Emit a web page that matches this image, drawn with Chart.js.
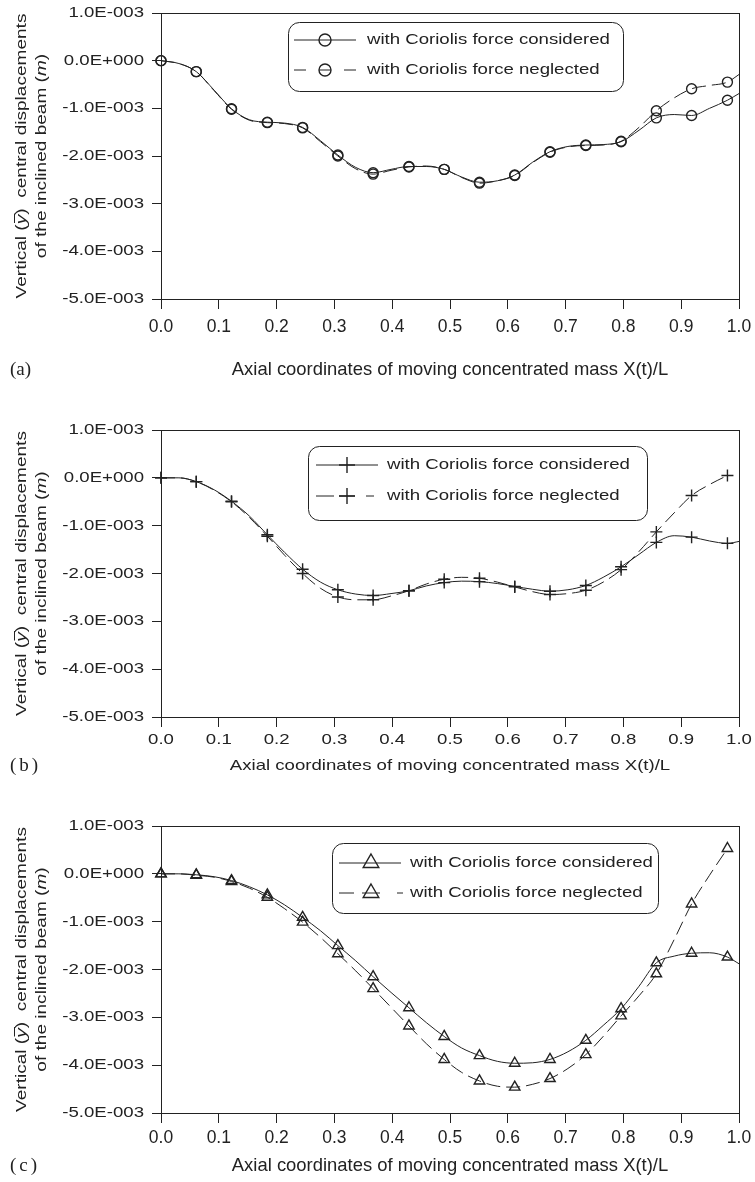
<!DOCTYPE html>
<html>
<head>
<meta charset="utf-8">
<script src="https://cdn.jsdelivr.net/npm/chart.js@4.4.1/dist/chart.umd.min.js"></script>
<style>
  html, body { margin: 0; padding: 0; background: #fff; }
  #wrap { position: relative; width: 755px; height: 1182px; overflow: hidden; }
  #wrap canvas { position: absolute; left: 0; }
</style>
</head>
<body>
<div id="wrap">
  <canvas id="panelA" width="755" height="395" style="top:0px"></canvas>
  <canvas id="panelB" width="755" height="395" style="top:395px"></canvas>
  <canvas id="panelC" width="755" height="392" style="top:790px"></canvas>
</div>
<script>
// positions X(t)/L along the beam where the response is sampled
const axialPos = [0, 0.031, 0.061, 0.092, 0.122, 0.153, 0.184, 0.214, 0.245, 0.276, 0.306, 0.337,
  0.367, 0.398, 0.429, 0.459, 0.490, 0.520, 0.551, 0.582, 0.612, 0.643, 0.673, 0.704, 0.735,
  0.765, 0.796, 0.827, 0.857, 0.888, 0.918, 0.949, 0.980, 1.000];
// positions that carry a symbol
const markerPos = [0, 0.061, 0.122, 0.184, 0.245, 0.306, 0.367, 0.429, 0.490, 0.551, 0.612,
  0.673, 0.735, 0.796, 0.857, 0.918, 0.980];

// vertical central displacement, in units of 1E-003 m
const dispA_considered = [0, -0.06, -0.23, -0.62, -1.01, -1.24, -1.29, -1.31, -1.40, -1.68, -1.98, -2.24,
  -2.35, -2.28, -2.22, -2.22, -2.28, -2.44, -2.55, -2.52, -2.40, -2.13, -1.91, -1.80, -1.77,
  -1.76, -1.70, -1.46, -1.20, -1.13, -1.15, -1.00, -0.83, -0.69];
const dispA_neglected = [0, -0.06, -0.23, -0.63, -1.02, -1.25, -1.30, -1.32, -1.41, -1.70, -2.00, -2.27,
  -2.38, -2.30, -2.23, -2.21, -2.28, -2.45, -2.57, -2.52, -2.41, -2.14, -1.92, -1.81, -1.78,
  -1.77, -1.69, -1.40, -1.05, -0.78, -0.59, -0.52, -0.45, -0.29];

const dispB_considered = [0, 0, -0.08, -0.25, -0.49, -0.80, -1.19, -1.56, -1.91, -2.18, -2.34, -2.43,
  -2.46, -2.42, -2.36, -2.26, -2.19, -2.16, -2.17, -2.21, -2.27, -2.33, -2.37, -2.34, -2.25,
  -2.08, -1.86, -1.60, -1.35, -1.21, -1.24, -1.32, -1.37, -1.33];
const dispB_neglected = [0, 0, -0.08, -0.26, -0.50, -0.83, -1.22, -1.62, -2.00, -2.31, -2.49, -2.55,
  -2.55, -2.47, -2.36, -2.22, -2.12, -2.08, -2.10, -2.18, -2.28, -2.38, -2.44, -2.42, -2.35,
  -2.18, -1.92, -1.54, -1.13, -0.73, -0.37, -0.14, 0.05, null];

const dispC_considered = [0, 0, -0.02, -0.06, -0.14, -0.27, -0.44, -0.65, -0.91, -1.19, -1.50, -1.82,
  -2.15, -2.48, -2.80, -3.11, -3.40, -3.64, -3.80, -3.92, -3.96, -3.95, -3.88, -3.72, -3.48,
  -3.17, -2.82, -2.35, -1.86, -1.72, -1.66, -1.65, -1.74, -1.88];
const dispC_neglected = [0, 0, -0.03, -0.07, -0.16, -0.30, -0.49, -0.73, -1.01, -1.33, -1.67, -2.03,
  -2.40, -2.79, -3.18, -3.55, -3.88, -4.15, -4.33, -4.44, -4.46, -4.40, -4.28, -4.07, -3.78,
  -3.40, -2.97, -2.55, -2.09, -1.37, -0.63, -0.03, 0.53, null];

const xTickLabels = ['0.0', '0.1', '0.2', '0.3', '0.4', '0.5', '0.6', '0.7', '0.8', '0.9', '1.0'];
const yTickLabels = ['-5.0E-003', '-4.0E-003', '-3.0E-003', '-2.0E-003', '-1.0E-003', '0.0E+000', '1.0E-003'];
const legendLabels = ['with Coriolis force considered', 'with Coriolis force neglected'];
const panelTags = ['(a)', '(b)', '(c)'];
const xTitle = 'Axial coordinates of moving concentrated mass X(t)/L';

const INK = '#222';
const SANS = '"Liberation Sans", Arial, Helvetica, sans-serif';
const SERIF = '"Liberation Serif", "Times New Roman", serif';
// the figure's lettering is drawn horizontally stretched (or condensed)
const WIDE = { size: 15, sx: 1.24 };
const NARROW_TICK = { size: 19, sx: 0.92 };
const NARROW_TITLE = { size: 19, sx: 0.97 };

function drawStretched(ctx, str, x, y, style, align) {
  ctx.save();
  ctx.font = style.size + 'px ' + SANS;
  ctx.fillStyle = INK;
  ctx.textBaseline = 'middle';
  ctx.textAlign = align || 'center';
  ctx.translate(x, y);
  ctx.scale(style.sx, 1);
  ctx.fillText(str, 0, 0);
  ctx.restore();
}

// a rotated line made of plain / italic pieces, centred on (cx, cy)
function drawRichVertical(ctx, parts, cx, cy, style) {
  ctx.save();
  ctx.fillStyle = INK;
  ctx.strokeStyle = INK;
  ctx.textBaseline = 'middle';
  ctx.textAlign = 'left';
  const fonts = parts.map(p => (p.italic ? 'italic ' : '') + style.size + 'px ' + SANS);
  const widths = parts.map((p, i) => { ctx.font = fonts[i]; return ctx.measureText(p.t).width; });
  const total = widths.reduce((a, b) => a + b, 0);
  ctx.translate(cx, cy);
  ctx.rotate(-Math.PI / 2);
  ctx.scale(style.sx, 1);
  let x = -total / 2;
  parts.forEach((p, i) => {
    ctx.font = fonts[i];
    ctx.fillText(p.t, x, 0);
    if (p.bar) {
      ctx.lineWidth = 1;
      ctx.beginPath();
      ctx.moveTo(x + 1, -7.5);
      ctx.lineTo(x + widths[i] + 1, -7.5);
      ctx.stroke();
    }
    x += widths[i];
  });
  ctx.restore();
}

function drawSpaced(ctx, str, x, y, gap) {
  ctx.save();
  ctx.font = '19px ' + SERIF;
  ctx.fillStyle = INK;
  ctx.textBaseline = 'middle';
  ctx.textAlign = 'left';
  for (const ch of str) {
    ctx.fillText(ch, x, y);
    x += ctx.measureText(ch).width + gap;
  }
  ctx.restore();
}

function drawGlyph(ctx, style, r, x, y) {
  ctx.beginPath();
  if (style === 'circle') {
    ctx.arc(x, y, r, 0, Math.PI * 2);
  } else if (style === 'cross') {
    ctx.moveTo(x, y - r); ctx.lineTo(x, y + r);
    ctx.moveTo(x - r, y); ctx.lineTo(x + r, y);
  } else {
    for (let k = 0; k < 3; k++) {
      const a = k * 2 * Math.PI / 3;
      const px = x + Math.sin(a) * r, py = y - Math.cos(a) * r;
      if (k === 0) ctx.moveTo(px, py); else ctx.lineTo(px, py);
    }
    ctx.closePath();
  }
  ctx.stroke();
}

const panelText = {
  id: 'panelText',
  afterDraw(chart, args, o) {
    const ctx = chart.ctx, area = chart.chartArea;
    const xs = chart.scales.x, ys = chart.scales.y;

    // closed frame around the plot
    ctx.save();
    ctx.strokeStyle = INK;
    ctx.lineWidth = 1;
    ctx.strokeRect(Math.round(area.left) + 0.5, Math.round(area.top) + 0.5,
      Math.round(area.right - area.left), Math.round(area.bottom - area.top));
    ctx.restore();

    ys.ticks.forEach((t, i) =>
      drawStretched(ctx, yTickLabels[i], area.left - 17, ys.getPixelForValue(t.value), WIDE, 'right'));
    xs.ticks.forEach((t, i) =>
      drawStretched(ctx, xTickLabels[i], xs.getPixelForValue(t.value), area.bottom + o.tickGap, o.tickFont));

    const cx = (area.left + area.right) / 2;
    drawStretched(ctx, xTitle, cx, area.bottom + o.titleGap, o.titleFont);
    drawSpaced(ctx, o.tag, 10, area.bottom + o.titleGap, o.tagGap);

    const cy = (area.top + area.bottom) / 2;
    const ys2 = { size: WIDE.size, sx: 1.27 };
    drawRichVertical(ctx, [{ t: 'Vertical (' }, { t: 'y', italic: true, bar: true },
      { t: ')  central displacements' }], 22, cy, ys2);
    drawRichVertical(ctx, [{ t: 'of the inclined beam (' }, { t: 'm', italic: true }, { t: ')' }], 42, cy, ys2);

    // legend
    const L = o.legend;
    ctx.save();
    ctx.fillStyle = '#fff';
    ctx.strokeStyle = INK;
    ctx.lineWidth = 1;
    ctx.beginPath();
    ctx.roundRect(L.x + 0.5, L.y + 0.5, L.w, L.h, 11);
    ctx.fill();
    ctx.stroke();
    ctx.lineWidth = 1;
    ctx.beginPath();
    ctx.moveTo(L.lineX0, L.rows[0]); ctx.lineTo(L.lineX1, L.rows[0]);
    L.dashes.forEach(d => { ctx.moveTo(d[0], L.rows[1]); ctx.lineTo(d[1], L.rows[1]); });
    // dash segment running through the symbol of the second row
    ctx.moveTo(L.markX - L.glyphR, L.rows[1]); ctx.lineTo(L.markX + L.glyphR, L.rows[1]);
    ctx.stroke();
    ctx.lineWidth = 1.4;
    L.rows.forEach(ry => drawGlyph(ctx, o.pointStyle, L.glyphR, L.markX, ry));
    ctx.restore();
    L.rows.forEach((ry, i) => drawStretched(ctx, legendLabels[i], L.textX, ry, WIDE, 'left'));
  }
};

function makePanel(id, considered, neglected, o) {
  const pts = ys => axialPos.map((x, i) => ({ x, y: ys[i] }));
  const radius = ctx => markerPos.includes(axialPos[ctx.dataIndex]) ? o.pointR : 0;
  const series = (ys, dash) => ({
    data: pts(ys),
    borderColor: INK,
    borderWidth: 1,
    borderDash: dash,
    cubicInterpolationMode: 'monotone',
    pointStyle: o.pointStyle,
    pointRadius: radius,
    pointBorderColor: INK,
    pointBackgroundColor: 'rgba(0,0,0,0)',
    pointBorderWidth: 1.4,
    clip: false
  });
  const H = document.getElementById(id).height;
  return new Chart(document.getElementById(id), {
    type: 'line',
    data: { datasets: [series(considered, []), series(neglected, [14, 6])] },
    options: {
      responsive: false,
      animation: false,
      events: [],
      layout: { padding: { left: 152, right: 16, top: o.top, bottom: H - o.bottom - 10 } },
      plugins: { legend: { display: false }, tooltip: { enabled: false }, panelText: o },
      scales: {
        x: {
          type: 'linear', min: 0, max: 1,
          ticks: { display: false, stepSize: 0.1 },
          grid: { drawOnChartArea: false, drawTicks: true, tickLength: 10, color: INK, lineWidth: 1 },
          border: { color: INK, width: 1 },
          afterFit: s => { s.height = 10; }
        },
        y: {
          min: -5, max: 1,
          ticks: { display: false, stepSize: 1 },
          grid: { drawOnChartArea: false, drawTicks: true, tickLength: 9, color: INK, lineWidth: 1 },
          border: { color: INK, width: 1 },
          afterFit: s => { s.width = 9; }
        }
      }
    },
    plugins: [panelText]
  });
}

makePanel('panelA', dispA_considered, dispA_neglected, {
  tag: panelTags[0], tagGap: 0, top: 13, bottom: 299,
  tickGap: 28, tickFont: NARROW_TICK, titleGap: 71, titleFont: NARROW_TITLE,
  pointStyle: 'circle', pointR: 5,
  legend: { x: 288, y: 22, w: 335, h: 69, rows: [40, 70], lineX0: 294, lineX1: 356,
    dashes: [[294, 306], [344, 356]], markX: 325, glyphR: 6, textX: 367 }
});

makePanel('panelB', dispB_considered, dispB_neglected, {
  tag: panelTags[1], tagGap: 3, top: 35, bottom: 322,
  tickGap: 23, tickFont: WIDE, titleGap: 49, titleFont: WIDE,
  pointStyle: 'cross', pointR: 6,
  legend: { x: 308, y: 51, w: 339, h: 74, rows: [70, 101], lineX0: 316, lineX1: 378,
    dashes: [[316, 334], [366, 374]], markX: 347, glyphR: 8, textX: 387 }
});

makePanel('panelC', dispC_considered, dispC_neglected, {
  tag: panelTags[2], tagGap: 3, top: 36, bottom: 323,
  tickGap: 25, tickFont: NARROW_TICK, titleGap: 53, titleFont: NARROW_TITLE,
  pointStyle: 'triangle', pointR: 6,
  legend: { x: 332, y: 53, w: 326, h: 70, rows: [73, 103], lineX0: 339, lineX1: 401,
    dashes: [[339, 354], [397, 403]], markX: 371, glyphR: 9, textX: 410 }
});
</script>
</body>
</html>
